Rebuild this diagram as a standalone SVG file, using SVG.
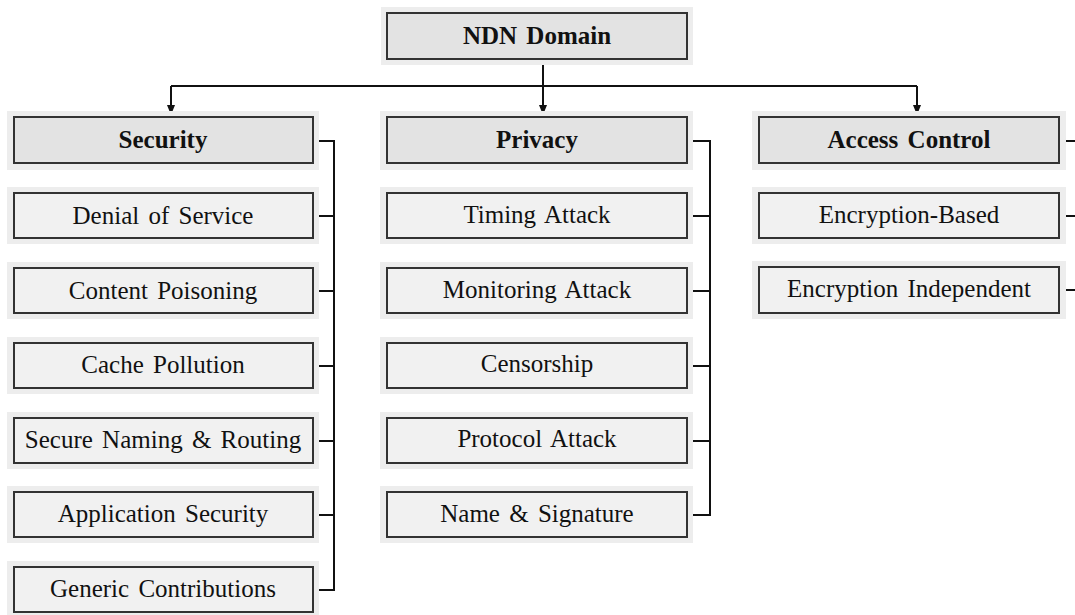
<svg xmlns="http://www.w3.org/2000/svg" width="1075" height="615" viewBox="0 0 1075 615">
  <defs>
    <marker id="arrow" viewBox="0 0 10 8" refX="10" refY="4" markerWidth="10" markerHeight="8" markerUnits="userSpaceOnUse" orient="auto">
      <path d="M0,0 L10,4 L0,8 Z" fill="#111"/>
    </marker>
  </defs>
  <style>
    .halo { fill: #ededed; }
    .head { fill: #e3e3e3; stroke: #333; stroke-width: 2; }
    .item { fill: #f1f1f1; stroke: #333; stroke-width: 2; }
    text { font-family: "Liberation Serif", "DejaVu Serif", "Times New Roman", serif; fill: #111; text-anchor: middle; font-size: 25px; }
    .ht { font-weight: bold; word-spacing: 3px; }
    .it { word-spacing: 3px; }
    .wire { fill: none; stroke: #111; stroke-width: 2; }
  </style>
  <rect width="1075" height="615" fill="#ffffff"/>

  <!-- connectors -->
  <g id="connectors">
    <path class="wire" d="M543,59 V86"/>
    <path class="wire" d="M171,86 H917"/>
    <path class="wire" d="M171,86 V115" marker-end="url(#arrow)"/>
    <path class="wire" d="M543,86 V115" marker-end="url(#arrow)"/>
    <path class="wire" d="M917,86 V115" marker-end="url(#arrow)"/>
    <!-- security branch -->
    <path class="wire" d="M313,141 H334 V590 H313"/>
    <path class="wire" d="M313,216 H334 M313,291 H334 M313,366 H334 M313,441 H334 M313,515 H334"/>
    <!-- privacy branch -->
    <path class="wire" d="M687,141 H710 V515 H687"/>
    <path class="wire" d="M687,216 H710 M687,291 H710 M687,366 H710 M687,441 H710"/>
    <!-- access control branch -->
    <path class="wire" d="M1059,141 H1085 V290 H1059"/>
    <path class="wire" d="M1059,216 H1085"/>
  </g>

  <!-- root -->
  <g id="ndn-domain">
    <rect class="halo" x="381" y="7" width="312" height="58"/>
    <rect class="head" x="387" y="13" width="300" height="46"/>
    <text class="ht" x="537" y="44">NDN Domain</text>
  </g>

  <!-- security column -->
  <g id="security">
    <rect class="halo" x="7" y="111" width="312" height="59"/>
    <rect class="head" x="14" y="117" width="299" height="46"/>
    <text class="ht" x="163" y="148">Security</text>
  </g>
  <g id="denial-of-service">
    <rect class="halo" x="7" y="187" width="312" height="57"/>
    <rect class="item" x="14" y="193" width="299" height="45"/>
    <text class="it" x="163" y="224">Denial of Service</text>
  </g>
  <g id="content-poisoning">
    <rect class="halo" x="7" y="262" width="312" height="57"/>
    <rect class="item" x="14" y="268" width="299" height="45"/>
    <text class="it" x="163" y="299">Content Poisoning</text>
  </g>
  <g id="cache-pollution">
    <rect class="halo" x="7" y="337" width="312" height="57"/>
    <rect class="item" x="14" y="343" width="299" height="45"/>
    <text class="it" x="163" y="373">Cache Pollution</text>
  </g>
  <g id="secure-naming-routing">
    <rect class="halo" x="7" y="412" width="312" height="57"/>
    <rect class="item" x="14" y="418" width="299" height="45"/>
    <text class="it" x="163" y="448">Secure Naming &amp; Routing</text>
  </g>
  <g id="application-security">
    <rect class="halo" x="7" y="486" width="312" height="57"/>
    <rect class="item" x="14" y="492" width="299" height="45"/>
    <text class="it" x="163" y="522">Application Security</text>
  </g>
  <g id="generic-contributions">
    <rect class="halo" x="7" y="561" width="312" height="57"/>
    <rect class="item" x="14" y="567" width="299" height="45"/>
    <text class="it" x="163" y="597">Generic Contributions</text>
  </g>

  <!-- privacy column -->
  <g id="privacy">
    <rect class="halo" x="380" y="111" width="313" height="59"/>
    <rect class="head" x="387" y="117" width="300" height="46"/>
    <text class="ht" x="537" y="148">Privacy</text>
  </g>
  <g id="timing-attack">
    <rect class="halo" x="380" y="187" width="313" height="57"/>
    <rect class="item" x="387" y="193" width="300" height="45"/>
    <text class="it" x="537" y="223">Timing Attack</text>
  </g>
  <g id="monitoring-attack">
    <rect class="halo" x="380" y="262" width="313" height="57"/>
    <rect class="item" x="387" y="268" width="300" height="45"/>
    <text class="it" x="537" y="298">Monitoring Attack</text>
  </g>
  <g id="censorship">
    <rect class="halo" x="380" y="337" width="313" height="57"/>
    <rect class="item" x="387" y="343" width="300" height="45"/>
    <text class="it" x="537" y="372">Censorship</text>
  </g>
  <g id="protocol-attack">
    <rect class="halo" x="380" y="412" width="313" height="57"/>
    <rect class="item" x="387" y="418" width="300" height="45"/>
    <text class="it" x="537" y="447">Protocol Attack</text>
  </g>
  <g id="name-signature">
    <rect class="halo" x="380" y="486" width="313" height="57"/>
    <rect class="item" x="387" y="492" width="300" height="45"/>
    <text class="it" x="537" y="522">Name &amp; Signature</text>
  </g>

  <!-- access control column -->
  <g id="access-control">
    <rect class="halo" x="752" y="111" width="314" height="59"/>
    <rect class="head" x="759" y="117" width="300" height="46"/>
    <text class="ht" x="909" y="148">Access Control</text>
  </g>
  <g id="encryption-based">
    <rect class="halo" x="752" y="187" width="314" height="57"/>
    <rect class="item" x="759" y="193" width="300" height="45"/>
    <text class="it" x="909" y="223">Encryption-Based</text>
  </g>
  <g id="encryption-independent">
    <rect class="halo" x="752" y="261" width="314" height="58"/>
    <rect class="item" x="759" y="267" width="300" height="46"/>
    <text class="it" x="909" y="297">Encryption Independent</text>
  </g>
</svg>
